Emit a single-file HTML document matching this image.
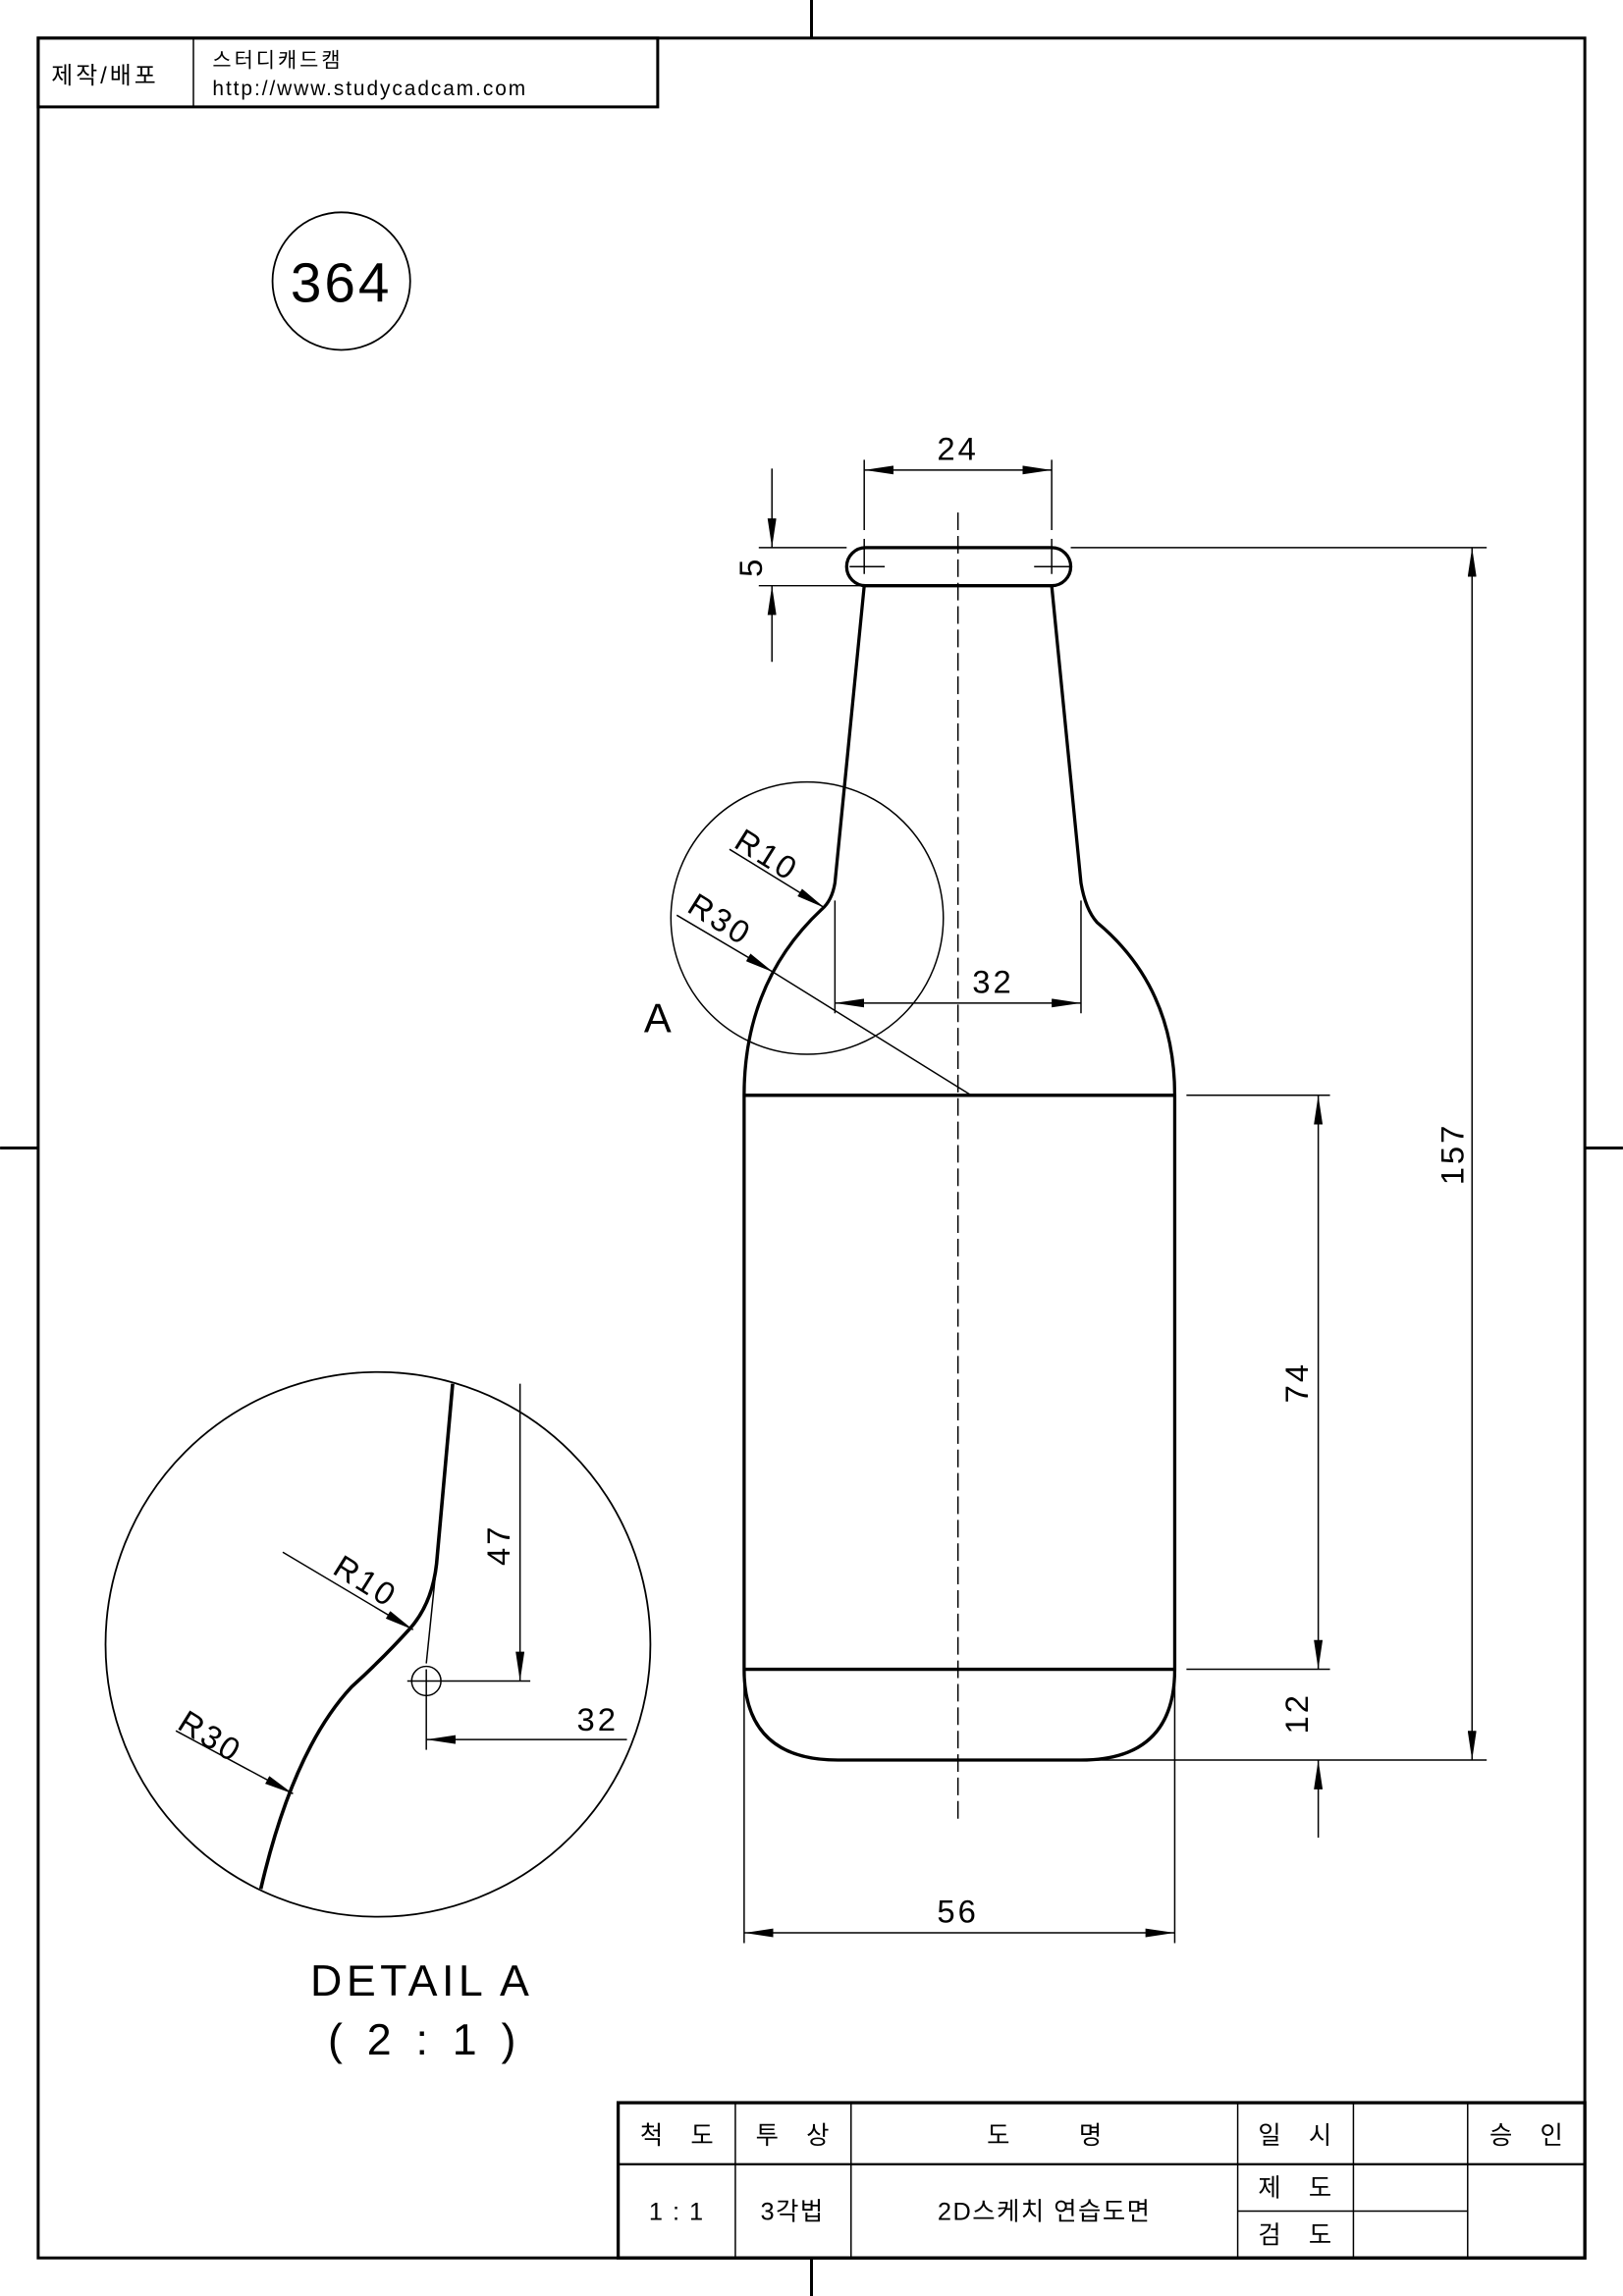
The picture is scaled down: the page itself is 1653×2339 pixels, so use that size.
<!DOCTYPE html>
<html><head><meta charset="utf-8"><style>
html,body{margin:0;padding:0;background:#fff}
svg{display:block}
text{font-family:"Liberation Sans","Noto Sans CJK KR",sans-serif;fill:#000;white-space:pre}
</style></head><body>
<svg width="1653" height="2339" viewBox="0 0 1108 1568" xmlns="http://www.w3.org/2000/svg">
<defs>
<marker id="ar" viewBox="0 0 20 6" refX="20" refY="3" markerWidth="20" markerHeight="6" markerUnits="userSpaceOnUse" orient="auto-start-reverse">
<path d="M0,0 L20,3 L0,6 Z" fill="#000"/>
</marker>
</defs>
<rect width="1108" height="1568" fill="#fff"/>
<rect x="26" y="26" width="1056" height="1516" fill="none" stroke="#000" stroke-width="2"/>
<g stroke="#000" stroke-width="2">
<line x1="554" y1="0" x2="554" y2="26"/><line x1="554" y1="1542" x2="554" y2="1568"/>
<line x1="0" y1="784" x2="26" y2="784"/><line x1="1082" y1="784" x2="1108" y2="784"/>
</g>
<rect x="26" y="26" width="423" height="47" fill="none" stroke="#000" stroke-width="2"/>
<line x1="132" y1="26" x2="132" y2="73" stroke="#000" stroke-width="1"/>
<text x="35" y="57" font-size="16" letter-spacing="2">제작/배포</text>
<text x="145" y="46" font-size="14" letter-spacing="2">스터디캐드캠</text>
<text x="145" y="65" font-size="14" letter-spacing="1.3">http://www.studycadcam.com</text>
<circle cx="233" cy="192" r="47" fill="none" stroke="#000" stroke-width="1.2"/>
<text x="233" y="206" font-size="38" text-anchor="middle" letter-spacing="2">364</text>

<line x1="654" y1="350" x2="654" y2="1245" stroke="#000" stroke-width="1" stroke-dasharray="12,4"/>

<g fill="none" stroke="#000" stroke-width="2.2" stroke-linejoin="round">
<rect x="578" y="374" width="153" height="26" rx="13" ry="13"/>
<path d="M590,400 L570,603 Q568,615 561,621 C530,650 508,690 508,748 L508,1140 Q508,1202 572,1202 L738,1202 Q802,1202 802,1140 L802,748 C802,700 785,660 749,630 Q741,621 738,603 L718,400"/>
<line x1="508" y1="748" x2="802" y2="748"/>
<line x1="508" y1="1140" x2="802" y2="1140"/>
</g>
<g stroke="#000" stroke-width="1">
<line x1="590" y1="368" x2="590" y2="392"/><line x1="580" y1="387" x2="604" y2="387"/>
<line x1="718" y1="368" x2="718" y2="392"/><line x1="706" y1="387" x2="732" y2="387"/>
</g>

<g stroke="#000" stroke-width="1" fill="none">
<line x1="590" y1="314" x2="590" y2="362"/><line x1="718" y1="314" x2="718" y2="362"/>
<line x1="590" y1="321" x2="718" y2="321" marker-start="url(#ar)" marker-end="url(#ar)"/>
<line x1="518" y1="374" x2="578" y2="374"/><line x1="518" y1="400" x2="590" y2="400"/>
<line x1="527" y1="320" x2="527" y2="374" marker-end="url(#ar)"/>
<line x1="527" y1="452" x2="527" y2="400" marker-end="url(#ar)"/>
<line x1="731" y1="374" x2="1015" y2="374"/><line x1="740" y1="1202" x2="1015" y2="1202"/>
<line x1="1005" y1="374" x2="1005" y2="1202" marker-start="url(#ar)" marker-end="url(#ar)"/>
<line x1="810" y1="748" x2="908" y2="748"/><line x1="810" y1="1140" x2="908" y2="1140"/>
<line x1="900" y1="748" x2="900" y2="1140" marker-start="url(#ar)" marker-end="url(#ar)"/>
<line x1="900" y1="1255" x2="900" y2="1202" marker-end="url(#ar)"/>
<line x1="508" y1="1150" x2="508" y2="1327"/><line x1="802" y1="1150" x2="802" y2="1327"/>
<line x1="508" y1="1320" x2="802" y2="1320" marker-start="url(#ar)" marker-end="url(#ar)"/>
<line x1="570" y1="615" x2="570" y2="692"/><line x1="738" y1="615" x2="738" y2="692"/>
<line x1="570" y1="685" x2="738" y2="685" marker-start="url(#ar)" marker-end="url(#ar)"/>
<circle cx="551" cy="627" r="93"/>
<line x1="498" y1="580" x2="563" y2="620" marker-end="url(#ar)"/>
<line x1="462" y1="625" x2="528" y2="664" marker-end="url(#ar)"/>
<line x1="528" y1="664" x2="663" y2="748"/>
</g>
<g font-size="22" letter-spacing="2">
<text x="654" y="314" text-anchor="middle">24</text>
<text x="678" y="678" text-anchor="middle">32</text>
<text x="654" y="1313" text-anchor="middle">56</text>
<text transform="translate(520,387) rotate(-90)" text-anchor="middle">5</text>
<text transform="translate(999,788) rotate(-90)" text-anchor="middle">157</text>
<text transform="translate(893,944) rotate(-90)" text-anchor="middle">74</text>
<text transform="translate(893,1170) rotate(-90)" text-anchor="middle">12</text>
<text transform="translate(500,578) rotate(32)">R10</text>
<text transform="translate(468,622) rotate(32)">R30</text>
<text x="450" y="705" font-size="28" text-anchor="middle">A</text>
</g>

<g fill="none" stroke="#000">
<circle cx="258" cy="1123" r="186" stroke-width="1.2"/>
<path d="M309,945 L298,1068 Q295,1095 280,1112 Q262,1132 240,1152 Q200,1195 178,1290" stroke-width="2.4"/>
<circle cx="291" cy="1148" r="10" stroke-width="1"/>
<g stroke-width="1">
<line x1="278" y1="1148" x2="362" y2="1148"/>
<line x1="291" y1="1136" x2="298" y2="1068"/>
<line x1="355" y1="945" x2="355" y2="1148" marker-end="url(#ar)"/>
<line x1="291" y1="1140" x2="291" y2="1195"/>
<line x1="428" y1="1188" x2="291" y2="1188" marker-end="url(#ar)"/>
<line x1="193" y1="1060" x2="282" y2="1113" marker-end="url(#ar)"/>
<line x1="120" y1="1182" x2="200" y2="1225" marker-end="url(#ar)"/>
</g>
</g>
<g font-size="22" letter-spacing="2">
<text transform="translate(348,1055) rotate(-90)" text-anchor="middle">47</text>
<text x="408" y="1182" text-anchor="middle">32</text>
<text transform="translate(226,1074) rotate(32)">R10</text>
<text transform="translate(120,1180) rotate(32)">R30</text>
</g>
<text x="288" y="1363" font-size="30" text-anchor="middle" letter-spacing="3">DETAIL A</text>
<text x="288" y="1403" font-size="30" text-anchor="middle">(  2  :  1  )</text>

<g stroke="#000" fill="none">
<rect x="422" y="1436" width="660" height="106" stroke-width="2.2"/>
<g stroke-width="1">
<line x1="422" y1="1478" x2="1082" y2="1478" stroke-width="1.5"/>
<line x1="502" y1="1436" x2="502" y2="1542"/>
<line x1="581" y1="1436" x2="581" y2="1542"/>
<line x1="845" y1="1436" x2="845" y2="1542"/>
<line x1="924" y1="1436" x2="924" y2="1542"/>
<line x1="1002" y1="1436" x2="1002" y2="1542"/>
<line x1="845" y1="1510" x2="1002" y2="1510"/>
</g>
</g>
<g font-size="17" text-anchor="middle">
<text x="462" y="1464">척    도</text>
<text x="541" y="1464">투    상</text>
<text x="713" y="1464">도          명</text>
<text x="884" y="1464">일    시</text>
<text x="1042" y="1464">승    인</text>
<text x="462" y="1516" letter-spacing="1">1 : 1</text>
<text x="541" y="1516" letter-spacing="1">3각법</text>
<text x="713" y="1516" letter-spacing="1">2D스케치 연습도면</text>
<text x="884" y="1500">제    도</text>
<text x="884" y="1532">검    도</text>
</g>
</svg>
</body></html>
